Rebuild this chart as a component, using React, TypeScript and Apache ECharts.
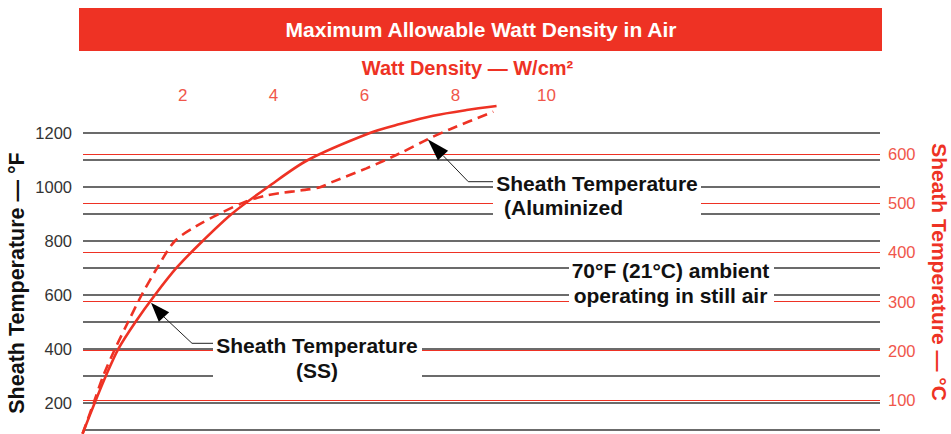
import React, { useEffect, useRef } from "react";
import * as echarts from "echarts";

const TITLE = "Maximum Allowable Watt Density in Air";
const X_AXIS_NAME = "Watt Density — W/cm²";
const LEFT_AXIS_NAME = "Sheath Temperature — °F";
const RIGHT_AXIS_NAME = "Sheath Temperature — °C";

const WATT_TICKS = [2, 4, 6, 8, 10];
const F_TICKS = [200, 400, 600, 800, 1000, 1200];
const F_LINES = [100, 200, 300, 400, 500, 600, 700, 800, 900, 1000, 1100, 1200];
const C_TICKS = [100, 200, 300, 400, 500, 600];

const SS_WATTS = [-0.2, 0.073, 0.314, 0.585, 0.967, 1.391, 1.868, 2.44, 3.084, 3.875, 4.754, 6.116, 6.776, 7.508, 8.242, 8.901];
const SS_TEMPS_F = [86, 203, 301, 400, 501, 600, 701, 800, 901, 1000, 1100, 1200, 1233, 1264, 1285, 1300];

const AL_WATTS = [-0.2, 0.05, 0.255, 0.512, 0.804, 1.099, 1.442, 1.83, 2.3, 2.8, 3.37, 3.85, 4.21, 4.58, 5.02, 5.31, 6.04, 6.78, 7.39, 7.88, 8.83];
const AL_TEMPS_F = [86, 203, 301, 400, 501, 600, 701, 800, 855, 900, 945, 969, 979, 987, 999, 1020, 1069, 1125, 1177, 1214, 1279];

const ANN_SS = ["Sheath Temperature", "(SS)"];
const ANN_AL = ["Sheath Temperature", "(Aluminized"];
const ANN_AMB = ["70°F (21°C) ambient", "operating in still air"];

const RED = "#ee3224";
const LIGHT_RED = "#f0564a";
const FONT = "'Liberation Sans', Arial, Helvetica, sans-serif";

function txt(x: number, y: number, text: string, opts: any = {}) {
  return {
    type: "text",
    x,
    y,
    rotation: opts.rotation || 0,
    z: 20,
    silent: true,
    style: {
      text,
      fill: opts.fill || "#111",
      fontSize: opts.fontSize || 21,
      fontWeight: opts.fontWeight || "bold",
      fontFamily: FONT,
      align: opts.align || "center",
      verticalAlign: "middle",
    },
  };
}

function whiteBox(x: number, y: number, w: number, h: number) {
  return { type: "rect", z: 15, silent: true, shape: { x, y, width: w, height: h }, style: { fill: "#fff" } };
}

function arrow(tip: number[], base: number[], leader: number[][]) {
  const dx = base[0] - tip[0];
  const dy = base[1] - tip[1];
  const len = Math.sqrt(dx * dx + dy * dy);
  const px = -dy / len;
  const py = dx / len;
  const hw = 7;
  return [
    {
      type: "polyline",
      z: 21,
      silent: true,
      shape: { points: leader },
      style: { stroke: "#222", lineWidth: 1, fill: null },
    },
    {
      type: "polygon",
      z: 22,
      silent: true,
      shape: {
        points: [tip, [base[0] + px * hw, base[1] + py * hw], [base[0] - px * hw, base[1] - py * hw]],
      },
      style: { fill: "#000" },
    },
  ];
}

export default function App() {
  const ref = useRef<HTMLDivElement>(null);

  useEffect(() => {
    if (!ref.current) return;
    const chart = echarts.init(ref.current, null, { renderer: "svg" });

    const markLineBase = {
      silent: true,
      symbol: ["none", "none"],
      label: { show: false },
      emphasis: { disabled: true },
      animation: false,
    };

    const option: any = {
      animation: false,
      grid: { left: 83, right: 71, top: 100.6, bottom: 0 },
      xAxis: {
        type: "value",
        position: "top",
        min: -0.19,
        max: 17.33,
        axisLine: { show: false },
        axisTick: { show: false },
        splitLine: { show: false },
        axisLabel: {
          customValues: WATT_TICKS,
          color: LIGHT_RED,
          fontSize: 17,
          fontFamily: FONT,
          margin: 5,
          verticalAlign: "middle",
        },
      },
      yAxis: [
        {
          type: "value",
          position: "left",
          min: 85.2,
          max: 1320,
          axisLine: { show: false },
          axisTick: { show: false },
          splitLine: { show: false },
          axisLabel: {
            customValues: F_TICKS,
            formatter: (v: number) => String(v),
            color: "#333",
            fontSize: 16.5,
            fontFamily: FONT,
            margin: 11,
          },
        },
        {
          type: "value",
          position: "right",
          min: 30.5,
          max: 708.7,
          axisLine: { show: false },
          axisTick: { show: false },
          splitLine: { show: false },
          axisLabel: {
            customValues: C_TICKS,
            formatter: (v: number) => String(v),
            color: LIGHT_RED,
            fontSize: 16.5,
            fontFamily: FONT,
            margin: 8,
          },
        },
      ],
      series: [
        {
          type: "line",
          name: "°C lines",
          xAxisIndex: 0,
          yAxisIndex: 1,
          data: [],
          z: 2,
          markLine: {
            ...markLineBase,
            lineStyle: { color: RED, width: 1.2, type: "solid" },
            data: C_TICKS.map((v) => ({ yAxis: v })),
          },
        },
        {
          type: "line",
          name: "°F lines",
          xAxisIndex: 0,
          yAxisIndex: 0,
          data: [],
          z: 3,
          markLine: {
            ...markLineBase,
            lineStyle: { color: "#3a3a3a", width: 1.5, type: "solid" },
            data: F_LINES.map((v) => ({ yAxis: v })),
          },
        },
        {
          type: "line",
          name: "Sheath Temperature (SS)",
          xAxisIndex: 0,
          yAxisIndex: 0,
          data: SS_WATTS.map((w, i) => [w, SS_TEMPS_F[i]]),
          showSymbol: false,
          smooth: 0.3,
          z: 5,
          lineStyle: { color: RED, width: 2.6 },
          emphasis: { disabled: true },
        },
        {
          type: "line",
          name: "Sheath Temperature (Aluminized)",
          xAxisIndex: 0,
          yAxisIndex: 0,
          data: AL_WATTS.map((w, i) => [w, AL_TEMPS_F[i]]),
          showSymbol: false,
          smooth: 0.3,
          z: 5,
          lineStyle: { color: RED, width: 2.6, type: [10, 6] },
          emphasis: { disabled: true },
        },
      ],
      graphic: [
        { type: "rect", z: 10, silent: true, shape: { x: 79, y: 8, width: 803, height: 43 }, style: { fill: RED } },
        txt(481, 29, TITLE, { fill: "#fff", fontSize: 21 }),
        txt(467.5, 68, X_AXIS_NAME, { fill: RED, fontSize: 20 }),
        txt(17, 283, LEFT_AXIS_NAME, { fill: "#111", fontSize: 21.5, rotation: Math.PI / 2 }),
        txt(939.5, 272, RIGHT_AXIS_NAME, { fill: RED, fontSize: 21, rotation: -Math.PI / 2 }),

        whiteBox(213, 333, 209, 50),
        txt(317, 345, ANN_SS[0]),
        txt(317, 370, ANN_SS[1]),

        whiteBox(493, 170, 208, 50),
        txt(597, 183, ANN_AL[0]),
        txt(504, 207, ANN_AL[1], { align: "left" }),

        whiteBox(569, 256, 205, 52),
        txt(670.5, 270, ANN_AMB[0]),
        txt(670.5, 295, ANN_AMB[1]),

        ...arrow([151, 302.7], [164, 317], [[213, 343.3], [192, 343.3], [164, 317]]),
        ...arrow([427.7, 139.3], [443, 155.5], [[493, 181.7], [468.3, 181.7], [443, 155.5]]),
      ],
    };

    chart.setOption(option);
    return () => chart.dispose();
  }, []);

  return (
    <div
      ref={ref}
      style={{ position: "fixed", left: 0, top: 0, width: 951, height: 434, background: "#fff" }}
    />
  );
}
